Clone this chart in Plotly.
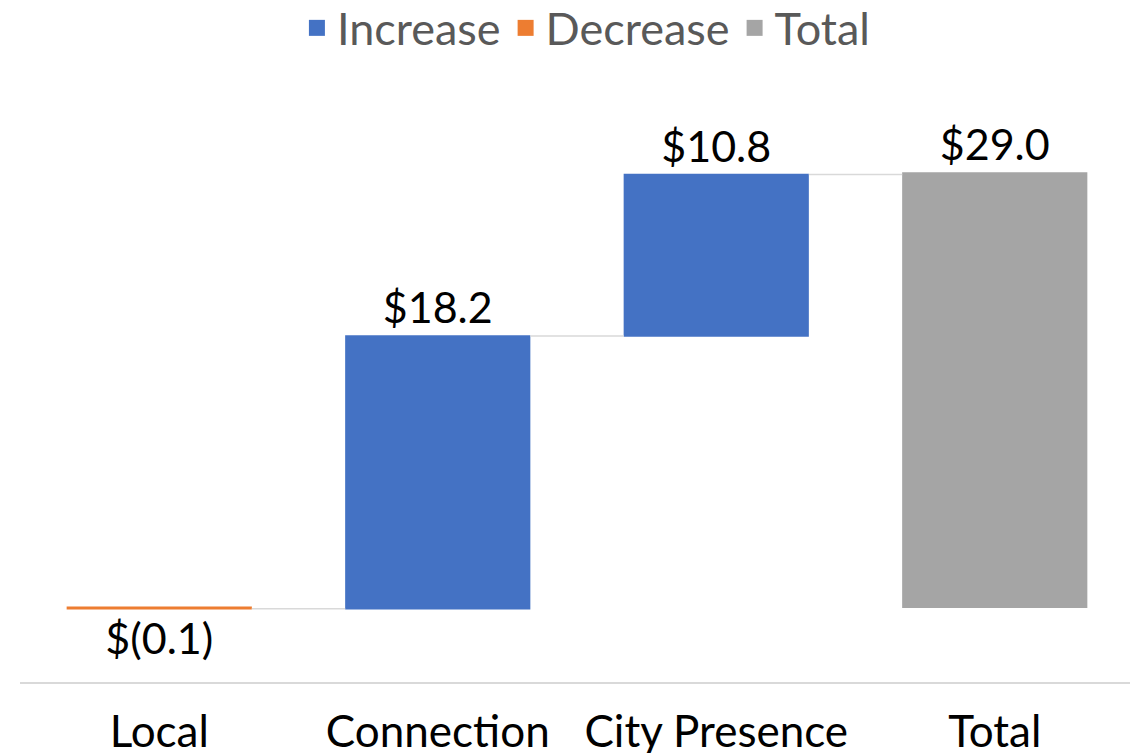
import plotly.graph_objects as go

categories = ["Local", "Connection", "City Presence", "Total"]
values = [-0.1, 18.2, 10.8, 29.0]
measures = ["relative", "relative", "relative", "absolute"]
labels = ["$(0.1)", "$18.2", "$10.8", "$29.0"]
legend_names = ["Increase", "Decrease", "Total"]
legend_colors = ["#4472C4", "#ED7D31", "#A5A5A5"]

FONT = "Lato"

fig = go.Figure()
fig.add_trace(go.Waterfall(
    x=categories,
    y=values,
    measure=measures,
    text=labels,
    textposition="outside",
    textfont=dict(family=FONT, size=43, color="#000000"),
    increasing=dict(marker=dict(color=legend_colors[0])),
    decreasing=dict(marker=dict(color=legend_colors[1])),
    totals=dict(marker=dict(color=legend_colors[2])),
    connector=dict(line=dict(color="#D9D9D9", width=1.5)),
    width=0.665,
    showlegend=False,
    cliponaxis=False,
    hoverinfo="x+y",
))

for name, color in zip(legend_names, legend_colors):
    fig.add_trace(go.Scatter(
        x=[None], y=[None], mode="markers", name=name,
        marker=dict(symbol="square", size=16, color=color),
    ))

fig.update_layout(
    width=1130, height=745,
    margin=dict(l=12, r=4, t=120, b=71, autoexpand=False),
    plot_bgcolor="white", paper_bgcolor="white",
    font=dict(family=FONT),
    legend=dict(orientation="h", x=0.508, xanchor="center", y=0.973, yref="container",
                yanchor="middle", font=dict(family=FONT, size=45, color="#595959"),
                itemsizing="trace", tracegroupgap=0, itemwidth=30),
    xaxis=dict(showline=True, linecolor="#D9D9D9", linewidth=1.5,
               ticks="outside", ticklen=10, tickcolor="rgba(0,0,0,0)",
               tickfont=dict(family=FONT, size=44, color="#000000"),
               showgrid=False, automargin=False),
    yaxis=dict(range=[-5, 32], visible=False, showgrid=False, zeroline=False,
               automargin=False),
)

fig.write_html("out.html")
